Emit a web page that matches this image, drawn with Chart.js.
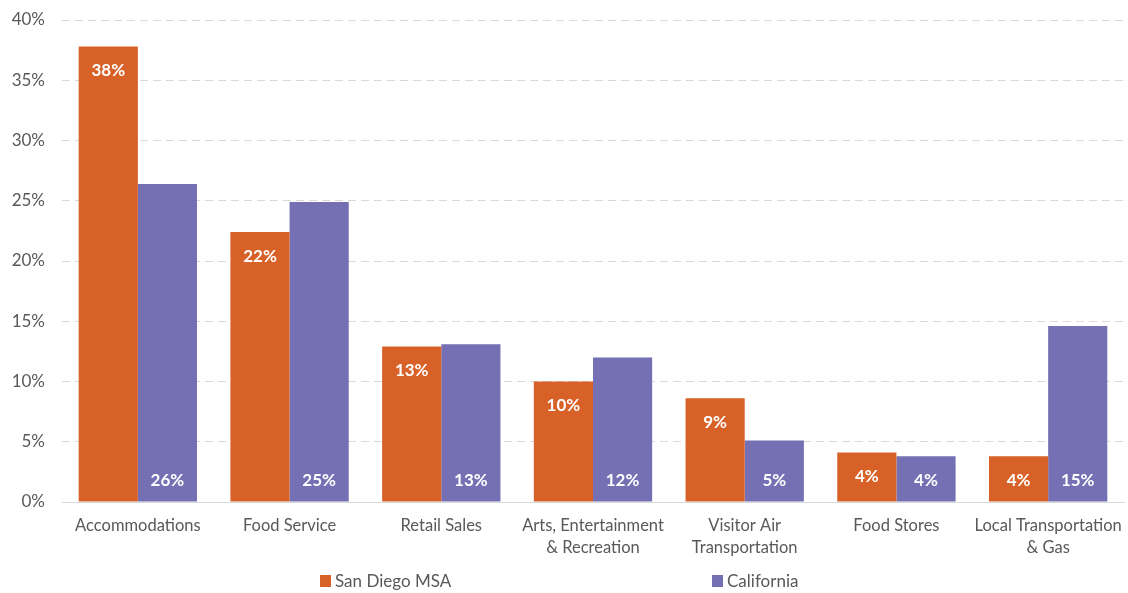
<!DOCTYPE html>
<html>
<head>
<meta charset="utf-8">
<script src="https://cdn.jsdelivr.net/npm/chart.js@4/dist/chart.umd.min.js"></script>
<style>
  html, body { margin: 0; padding: 0; background: #fff; }
  canvas { display: block; }
</style>
</head>
<body>
<canvas id="chart" width="1128" height="593"></canvas>
<script>
const categories = [
  'Accommodations',
  'Food Service',
  'Retail Sales',
  ['Arts, Entertainment', '& Recreation'],
  ['Visitor Air', 'Transportation'],
  'Food Stores',
  ['Local Transportation', '& Gas'],
];
const sanDiego = [37.8, 22.4, 12.9, 10.0, 8.6, 4.1, 3.8];
const california = [26.4, 24.9, 13.1, 12.0, 5.1, 3.8, 14.6];
const sanDiegoLabels = ['38%', '22%', '13%', '10%', '9%', '4%', '4%'];
const californiaLabels = ['26%', '25%', '13%', '12%', '5%', '4%', '15%'];
const seriesNames = ['San Diego MSA', 'California'];
const yTicks = [0, 5, 10, 15, 20, 25, 30, 35, 40];

const orange = '#D86128';
const purple = '#7570B3';
const fontFamily = 'Lato, "Open Sans", sans-serif';

// etiquetas de valor dentro das barras
const barLabels = {
  id: 'barLabels',
  afterDatasetsDraw(chart) {
    const ctx = chart.ctx;
    ctx.save();
    ctx.fillStyle = '#ffffff';
    ctx.font = 'bold 17px ' + fontFamily;
    ctx.textAlign = 'center';
    ctx.textBaseline = 'middle';
    chart.getDatasetMeta(0).data.forEach((bar, i) => {
      ctx.fillText(sanDiegoLabels[i], bar.x, bar.y + 24);
    });
    chart.getDatasetMeta(1).data.forEach((bar, i) => {
      ctx.fillText(californiaLabels[i], bar.x, bar.base - 21);
    });
    ctx.restore();
  },
};

// legenda desenhada à mão, com o espaçamento do original
const bottomLegend = {
  id: 'bottomLegend',
  afterDraw(chart) {
    const ctx = chart.ctx;
    const items = [
      { text: seriesNames[0], color: orange, x: 320 },
      { text: seriesNames[1], color: purple, x: 712 },
    ];
    ctx.save();
    ctx.font = '17px ' + fontFamily;
    ctx.textBaseline = 'middle';
    items.forEach((item) => {
      ctx.fillStyle = item.color;
      ctx.fillRect(item.x, 575, 11, 12);
      ctx.fillStyle = '#595959';
      ctx.fillText(item.text, item.x + 15, 582);
    });
    ctx.restore();
  },
};

new Chart(document.getElementById('chart').getContext('2d'), {
  type: 'bar',
  data: {
    labels: categories,
    datasets: [
      {
        label: seriesNames[0],
        data: sanDiego,
        backgroundColor: orange,
        categoryPercentage: 0.78,
        barPercentage: 1,
      },
      {
        label: seriesNames[1],
        data: california,
        backgroundColor: purple,
        categoryPercentage: 0.78,
        barPercentage: 1,
      },
    ],
  },
  options: {
    responsive: false,
    animation: false,
    layout: { padding: { top: 20, right: 4, bottom: 31, left: 0 } },
    plugins: {
      legend: { display: false },
      tooltip: { enabled: false },
    },
    scales: {
      x: {
        afterFit: (scale) => {
          scale.height = 60;
          scale.paddingLeft = 0;
          scale.paddingRight = 0;
        },
        grid: { display: false, drawTicks: false },
        border: { display: true, color: '#d9d9d9', width: 1 },
        ticks: {
          color: '#595959',
          padding: 13,
          font: { family: fontFamily, size: 16.5, lineHeight: 1.3 },
          maxRotation: 0,
          autoSkip: false,
        },
      },
      y: {
        min: 0,
        max: 40,
        afterFit: (scale) => {
          scale.width = 62;
          scale.paddingTop = 0;
          scale.paddingBottom = 0;
        },
        afterBuildTicks: (scale) => { scale.ticks = yTicks.map((v) => ({ value: v })); },
        grid: {
          color: (c) => (c.tick && c.tick.value === 0 ? 'rgba(0,0,0,0)' : '#d9d9d9'),
          drawTicks: false,
        },
        border: { display: false, dash: [8, 5] },
        ticks: {
          color: '#595959',
          padding: 17,
          font: { family: fontFamily, size: 17 },
          callback: (v) => v + '%',
        },
      },
    },
  },
  plugins: [barLabels, bottomLegend],
});
</script>
</body>
</html>
